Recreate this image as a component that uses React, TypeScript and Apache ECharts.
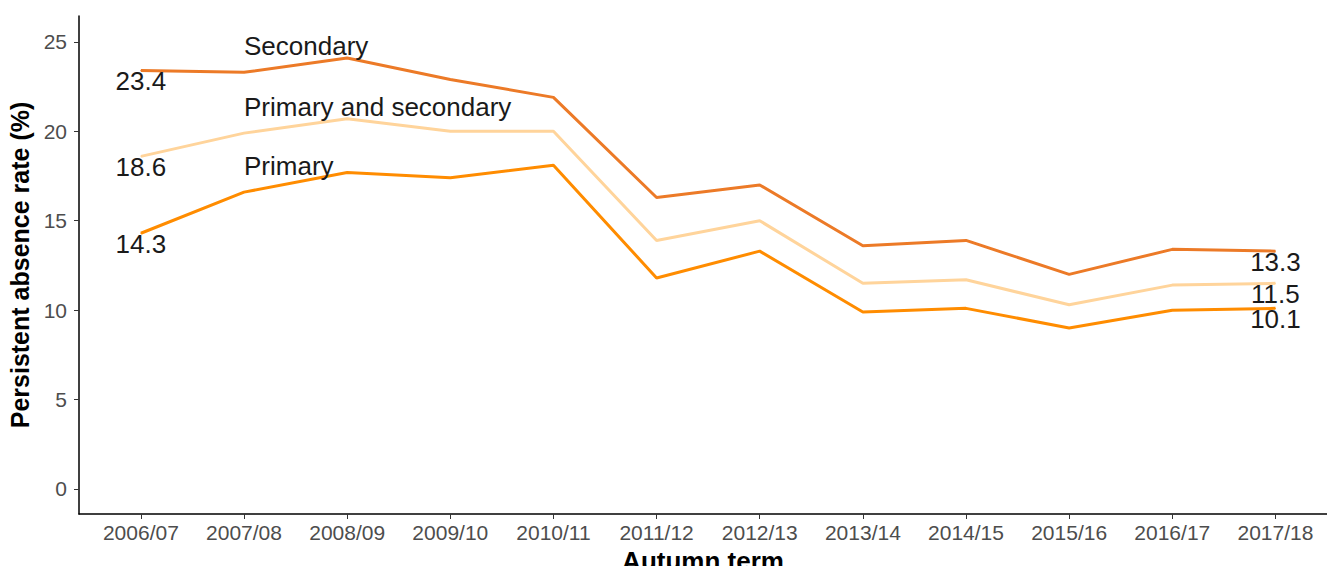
import React, { useEffect, useRef } from "react";
import * as echarts from "echarts";

const categories = ["2006/07","2007/08","2008/09","2009/10","2010/11","2011/12","2012/13","2013/14","2014/15","2015/16","2016/17","2017/18"];
const secondary = [23.4, 23.3, 24.1, 22.9, 21.9, 16.3, 17.0, 13.6, 13.9, 12.0, 13.4, 13.3];
const primaryAndSecondary = [18.6, 19.9, 20.7, 20.0, 20.0, 13.9, 15.0, 11.5, 11.7, 10.3, 11.4, 11.5];
const primary = [14.3, 16.6, 17.7, 17.4, 18.1, 11.8, 13.3, 9.9, 10.1, 9.0, 10.0, 10.1];
const yTicks = [0, 5, 10, 15, 20, 25];

const seriesNames = ["Secondary", "Primary and secondary", "Primary"];
const seriesColors = ["#EC7A27", "#FFD49B", "#FF8C00"];

const TEXT_FONT = "Liberation Sans, Arial, sans-serif";

function buildSeries(name: string, values: number[], color: string) {
  const last = values.length - 1;
  return {
    type: "line",
    name,
    symbol: "circle",
    symbolSize: 1,
    showSymbol: true,
    itemStyle: { color },
    lineStyle: { color, width: 3 },
    label: { show: false },
    data: values.map((v, i) => {
      const item: any = { value: [i, v] };
      if (i === 0 || i === last) {
        item.label = {
          show: true,
          position: "bottom",
          distance: 1,
          lineHeight: 18,
          formatter: () => v.toFixed(1),
          color: "#1A1A1A",
          fontSize: 26,
          fontFamily: TEXT_FONT,
        };
      } else if (i === 1) {
        item.label = {
          show: true,
          position: "top",
          align: "left",
          distance: 13,
          formatter: () => name,
          color: "#1A1A1A",
          fontSize: 26,
          fontFamily: TEXT_FONT,
        };
      }
      return item;
    }),
  };
}

export default function App() {
  const ref = useRef<HTMLDivElement>(null);
  useEffect(() => {
    if (!ref.current) return;
    const chart = echarts.init(ref.current, undefined, { renderer: "svg" });
    chart.setOption({
      animation: false,
      backgroundColor: "#FFFFFF",
      grid: { left: 79, right: 0, top: 16, bottom: 52, containLabel: false, outerBoundsMode: "none" },
      xAxis: {
        type: "value",
        min: -0.6,
        max: 11.5,
        name: "Autumn term",
        nameLocation: "middle",
        nameGap: 32,
        nameTextStyle: { fontSize: 26, fontWeight: "bold", color: "#000", fontFamily: TEXT_FONT },
        axisLine: { show: true, onZero: false, lineStyle: { color: "#000", width: 1.5 } },
        axisTick: { show: true, length: 5, lineStyle: { color: "#333" }, customValues: categories.map((_, i) => i) },
        axisLabel: {
          customValues: categories.map((_, i) => i),
          formatter: (v: number) => categories[Math.round(v)] ?? "",
          fontSize: 21,
          color: "#4D4D4D",
          margin: 8,
          fontFamily: TEXT_FONT,
        },
        splitLine: { show: false },
      },
      yAxis: {
        type: "value",
        min: -1.4,
        max: 26.45,
        name: "Persistent absence rate (%)",
        nameLocation: "middle",
        nameGap: 43,
        nameTextStyle: { fontSize: 25, fontWeight: "bold", color: "#000", fontFamily: TEXT_FONT },
        axisLine: { show: true, onZero: false, lineStyle: { color: "#000", width: 1.5 } },
        axisTick: { show: true, length: 5, lineStyle: { color: "#333" }, customValues: yTicks },
        axisLabel: {
          customValues: yTicks,
          fontSize: 21,
          color: "#4D4D4D",
          margin: 12,
          fontFamily: TEXT_FONT,
        },
        splitLine: { show: false },
      },
      series: [
        buildSeries(seriesNames[0], secondary, seriesColors[0]),
        buildSeries(seriesNames[1], primaryAndSecondary, seriesColors[1]),
        buildSeries(seriesNames[2], primary, seriesColors[2]),
      ],
    });
    return () => chart.dispose();
  }, []);
  return (
    <div
      ref={ref}
      style={{ position: "fixed", left: 0, top: 0, width: 1327, height: 566, background: "#fff" }}
    />
  );
}
